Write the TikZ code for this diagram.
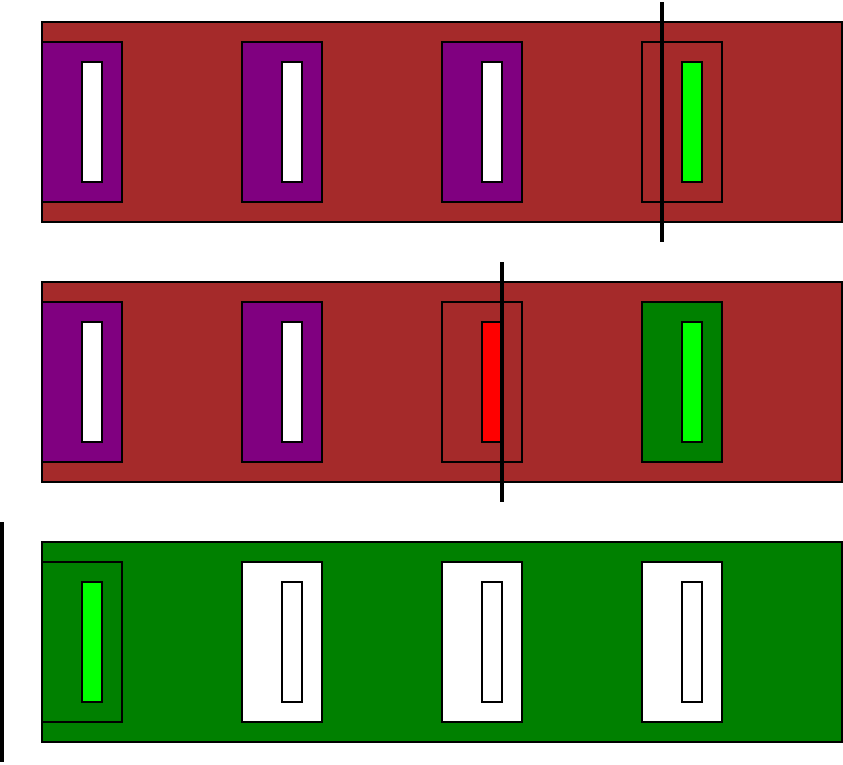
\documentclass[tikz,border=0pt]{standalone}
\definecolor{brn}{HTML}{A52A2A}
\definecolor{prp}{HTML}{800080}
\definecolor{grn}{HTML}{008000}
\definecolor{lme}{HTML}{00FF00}
\definecolor{rd}{HTML}{FF0000}
\begin{document}
\begin{tikzpicture}[x=1pt,y=-1pt,
  outl/.style={draw=black,line width=2pt},
  cut/.style={draw=black,line width=4pt}]
\useasboundingbox (0,0) rectangle (843,764);
% row 1
\path[outl,fill=brn] (42,22) rectangle (842,222);
\foreach \x in {42,242,442}{
  \path[outl,fill=prp] (\x,42) rectangle ++(80,160);
  \path[outl,fill=white] (\x+40,62) rectangle ++(20,120);
}
\path[outl] (642,42) rectangle ++(80,160);
\path[outl,fill=lme] (682,62) rectangle ++(20,120);
\path[cut] (662,2) -- (662,242);
% row 2
\path[outl,fill=brn] (42,282) rectangle (842,482);
\foreach \x in {42,242}{
  \path[outl,fill=prp] (\x,302) rectangle ++(80,160);
  \path[outl,fill=white] (\x+40,322) rectangle ++(20,120);
}
\path[outl] (442,302) rectangle ++(80,160);
\path[outl,fill=rd] (482,322) rectangle ++(20,120);
\path[outl,fill=grn] (642,302) rectangle ++(80,160);
\path[outl,fill=lme] (682,322) rectangle ++(20,120);
\path[cut] (502,262) -- (502,502);
% row 3
\path[outl,fill=grn] (42,542) rectangle (842,742);
\path[outl] (42,562) rectangle ++(80,160);
\path[outl,fill=lme] (82,582) rectangle ++(20,120);
\foreach \x in {242,442,642}{
  \path[outl,fill=white] (\x,562) rectangle ++(80,160);
  \path[outl,fill=white] (\x+40,582) rectangle ++(20,120);
}
\path[cut] (2,522) -- (2,762);
\end{tikzpicture}
\end{document}
